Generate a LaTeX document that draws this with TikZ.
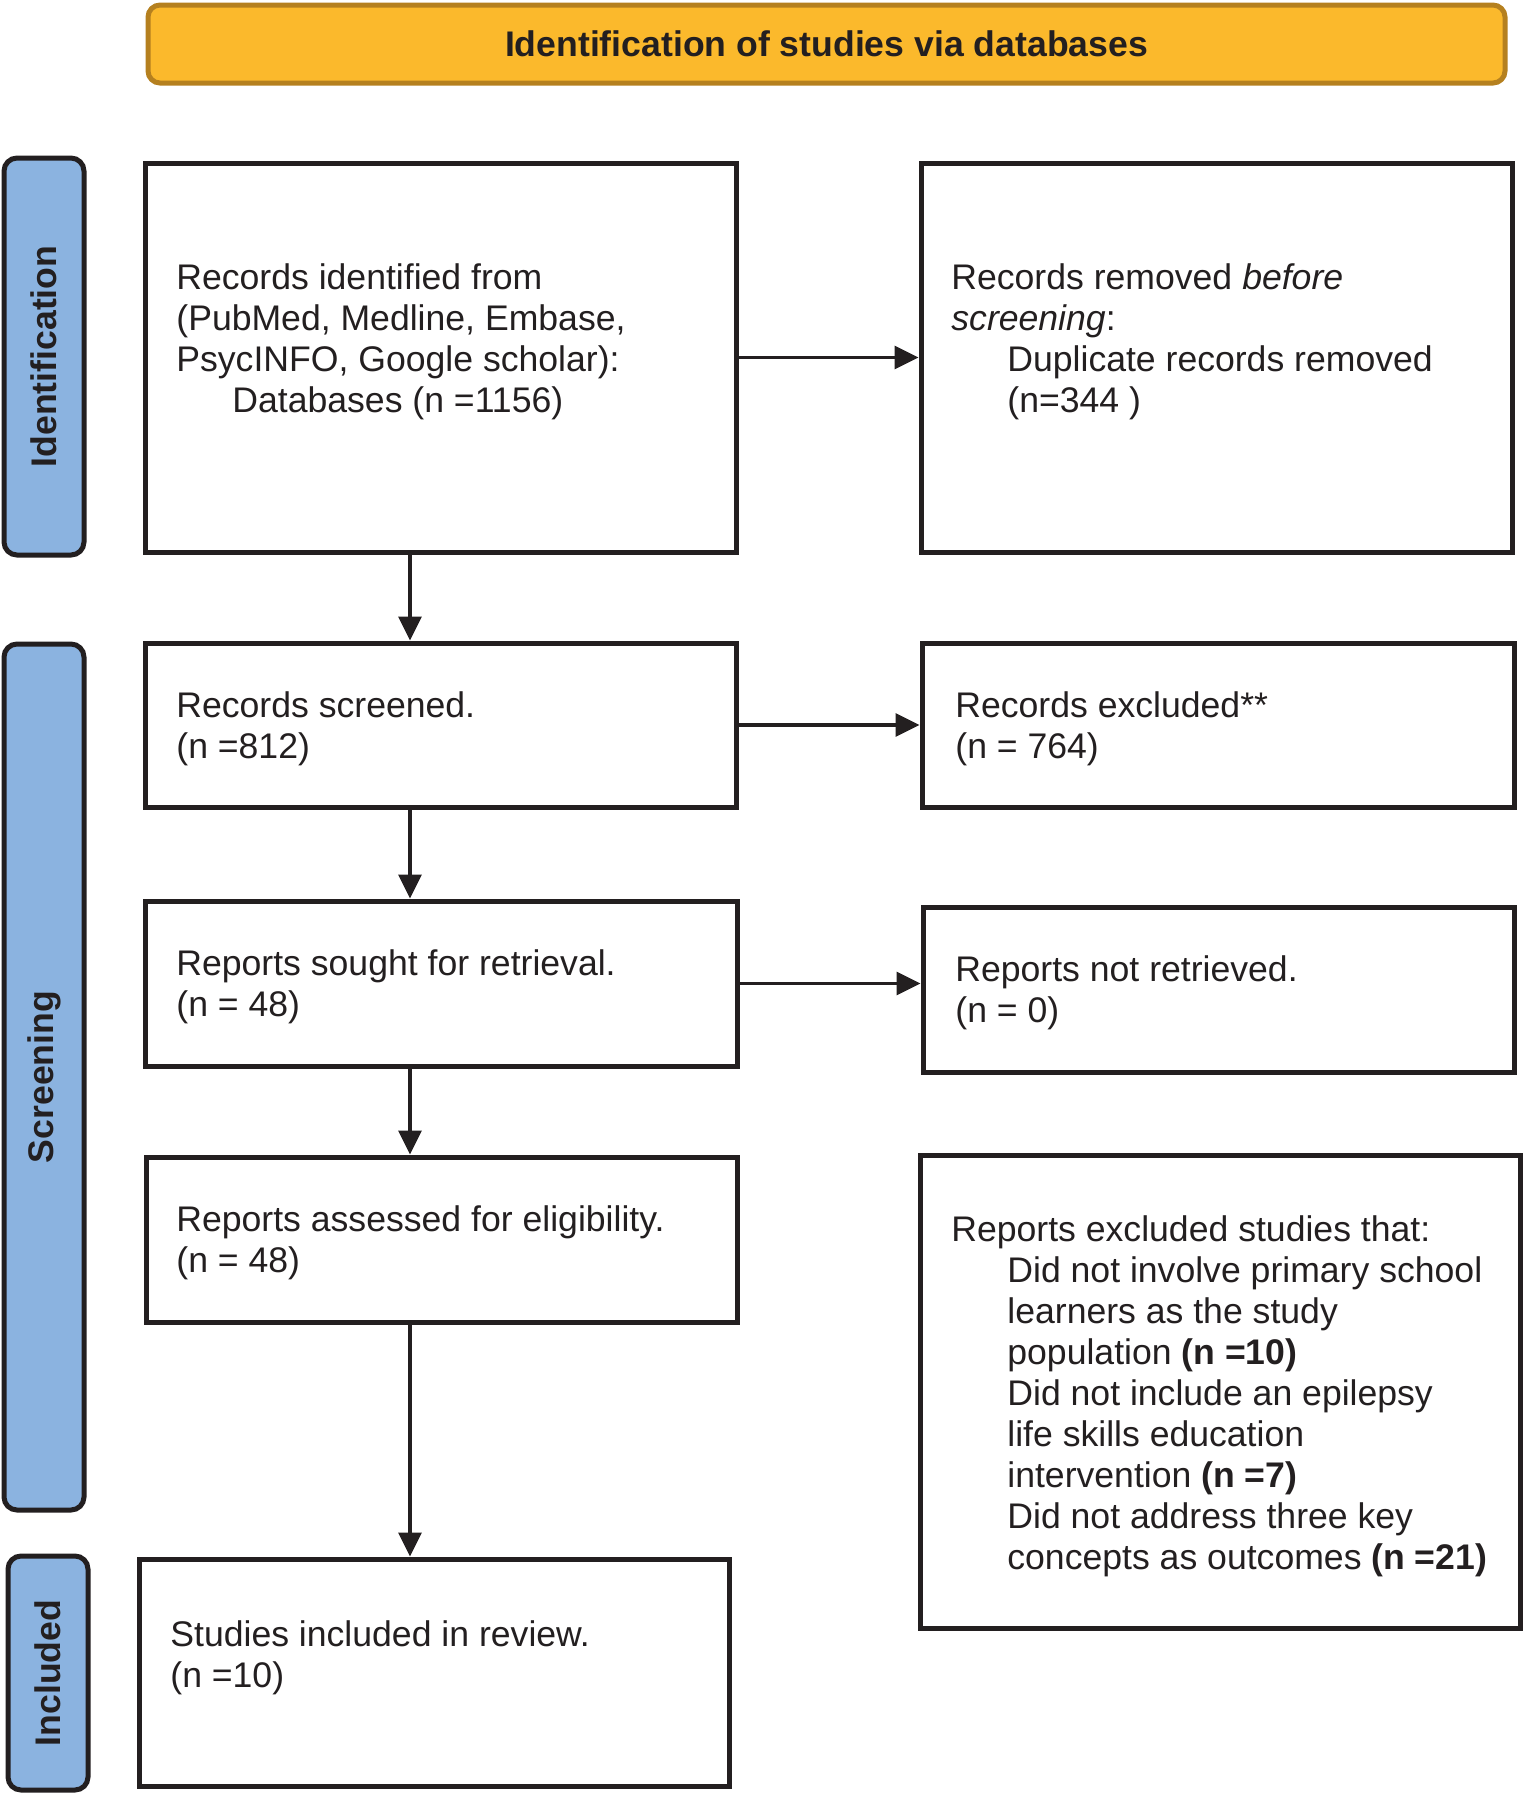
\documentclass[tikz,border=0pt]{standalone}
\usepackage{fontspec}
\setmainfont{Liberation Sans}
\usetikzlibrary{arrows.meta}
\definecolor{ink}{RGB}{35,31,32}
\definecolor{titlefill}{RGB}{251,185,44}
\definecolor{titleline}{RGB}{181,128,31}
\definecolor{sidefill}{RGB}{139,179,224}
\tikzset{
  box/.style={draw=ink, line width=2.5pt, rectangle, inner sep=0pt, fill=white},
  side/.style={draw=ink, line width=2.5pt, rectangle, rounded corners=6.5pt, fill=sidefill, inner sep=0pt},
  titlebox/.style={draw=titleline, line width=2.5pt, rectangle, rounded corners=6pt, fill=titlefill, inner sep=0pt},
  txt/.style={anchor=west, align=left, inner sep=0pt, text=ink, font=\fontsize{17.8}{20.5}\selectfont},
  headtxt/.style={inner sep=0pt, text=ink, font=\fontsize{17.8}{20.5}\selectfont\bfseries},
  sidetxt/.style={inner sep=0pt, text=ink, rotate=90, font=\fontsize{17.8}{20.5}\selectfont\bfseries},
  arr/.style={draw=ink, line width=1.65pt, -{Triangle[length=12pt,width=11.5pt]}}
}
\begin{document}
\begin{tikzpicture}[x=0.5pt,y=-0.5pt]
\useasboundingbox (0,0) rectangle (1525,1796);

% title
\node[titlebox, minimum width=678.5pt, minimum height=39pt] (title) at (826.5,44) {};
\node[headtxt] (titletxt) at (title.center) {Identification of studies via databases};

% side bars
\node[side, minimum width=40pt, minimum height=198.5pt] (sid) at (44,356.5) {};
\node[sidetxt] (sidt) at (sid.center) {Identification};
\node[side, minimum width=40pt, minimum height=433pt] (ssc) at (44,1077) {};
\node[sidetxt] (ssct) at (ssc.center) {Screening};
\node[side, minimum width=40pt, minimum height=117pt] (sin) at (48,1673) {};
\node[sidetxt] (sint) at (sin.center) {Included};

% boxes
\node[box, minimum width=295.5pt, minimum height=194.5pt] (b1) at (440.5,357.5) {};
\node[box, minimum width=295.5pt, minimum height=194.5pt] (b2) at (1216.5,357.5) {};
\node[box, minimum width=295.5pt, minimum height=82pt] (b3) at (440.5,725) {};
\node[box, minimum width=296pt, minimum height=82pt] (b4) at (1218,725) {};
\node[box, minimum width=296pt, minimum height=82.5pt] (b5) at (441,983.5) {};
\node[box, minimum width=295.5pt, minimum height=82.5pt] (b6) at (1218.5,989.5) {};
\node[box, minimum width=295.5pt, minimum height=82.5pt] (b7) at (441.5,1239.5) {};
\node[box, minimum width=300pt, minimum height=236.5pt] (b8) at (1220,1391.5) {};
\node[box, minimum width=295pt, minimum height=113.5pt] (b9) at (434,1672.5) {};

% texts
\node[txt] (t1) at (176,342) {Records identified from\\(PubMed, Medline, Embase,\\PsycINFO, Google scholar):\\\hspace*{28pt}Databases (n =1156)};
\node[txt] (t2) at (951,342) {Records removed \textit{before}\\\textit{screening}:\\\hspace*{28pt}Duplicate records removed\\\hspace*{28pt}(n=344 )};
\node[txt] (t3) at (176,729) {Records screened.\\(n =812)};
\node[txt] (t4) at (955,729) {Records excluded**\\(n = 764)};
\node[txt] (t5) at (176,987) {Reports sought for retrieval.\\(n = 48)};
\node[txt] (t6) at (955,993) {Reports not retrieved.\\(n = 0)};
\node[txt] (t7) at (176,1243) {Reports assessed for eligibility.\\(n = 48)};
\node[txt] (t8) at (951,1396) {Reports excluded studies that:\\
\hspace*{28pt}Did not involve primary school\\
\hspace*{28pt}learners as the study\\
\hspace*{28pt}population \textbf{(n =10)}\\
\hspace*{28pt}Did not include an epilepsy\\
\hspace*{28pt}life skills education\\
\hspace*{28pt}intervention \textbf{(n =7)}\\
\hspace*{28pt}Did not address three key\\
\hspace*{28pt}concepts as outcomes \textbf{(n =21)}};
\node[txt] (t9) at (170,1658) {Studies included in review.\\(n =10)};

% connectors
\coordinate (vx) at (410,0);
\draw[arr] (b1.east) -- (b2.west);
\draw[arr] (b3.east) -- (b4.west);
\draw[arr] (b5.east) -- (b5.east -| b6.west);
\draw[arr] (b1.south -| vx) -- (b3.north -| vx);
\draw[arr] (b3.south -| vx) -- (b5.north -| vx);
\draw[arr] (b5.south -| vx) -- (b7.north -| vx);
\draw[arr] (b7.south -| vx) -- (b9.north -| vx);
\end{tikzpicture}
\end{document}
